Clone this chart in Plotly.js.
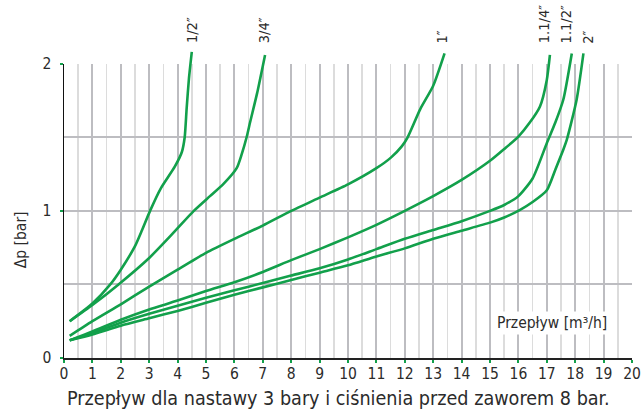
<!DOCTYPE html>
<html>
<head>
<meta charset="utf-8">
<script src="https://cdn.plot.ly/plotly-3.0.1.min.js"></script>
<style>html,body{margin:0;padding:0;background:#fff;}#chart{width:644px;height:411px;}</style>
</head>
<body>
<div id="chart"></div>
<script>
// Series data (x: flow m3/h, y: Δp bar)
const names = ["1/2″", "3/4″", "1″", "1.1/4″", "1.1/2″", "2″"];

const x_12 = [0.2, 1, 1.63, 2, 2.5, 2.75, 3.03, 3.4, 3.9, 4.15, 4.25, 4.32, 4.4, 4.5];
const y_12 = [0.25, 0.37, 0.5, 0.6, 0.76, 0.87, 1.0, 1.15, 1.30, 1.40, 1.5, 1.7, 1.9, 2.08];

const x_34 = [0.2, 1, 1.92, 3, 3.8, 4.57, 5.14, 5.6, 6.08, 6.25, 6.43, 6.55, 6.8, 7.08];
const y_34 = [0.25, 0.36, 0.5, 0.68, 0.84, 1.0, 1.10, 1.18, 1.29, 1.38, 1.5, 1.6, 1.8, 2.06];

const x_1 = [0.2, 1, 2, 3, 4, 5, 6, 7, 8, 9, 10, 11, 11.5, 11.9, 12.1, 12.54, 13, 13.4];
const y_1 = [0.15, 0.25, 0.365, 0.485, 0.60, 0.715, 0.81, 0.90, 1.0, 1.09, 1.18, 1.29, 1.36, 1.44, 1.5, 1.69, 1.85, 2.07];

const x_114 = [0.2, 1, 2, 3, 4, 5, 6, 7, 8, 9, 10, 11, 12, 13, 14, 15, 15.5, 16, 16.4, 16.76, 17.0, 17.11];
const y_114 = [0.12, 0.18, 0.26, 0.33, 0.39, 0.455, 0.515, 0.585, 0.665, 0.74, 0.82, 0.905, 1.0, 1.10, 1.21, 1.34, 1.42, 1.505, 1.6, 1.71, 1.89, 2.06];

const x_112 = [0.2, 1, 2, 3, 4, 5, 6, 7, 8, 9, 10, 11, 12, 13, 14, 15, 15.5, 16, 16.5, 17, 17.3, 17.58, 17.88];
const y_112 = [0.12, 0.17, 0.24, 0.30, 0.355, 0.41, 0.46, 0.51, 0.56, 0.61, 0.67, 0.74, 0.81, 0.87, 0.93, 1.0, 1.04, 1.10, 1.22, 1.46, 1.6, 1.755, 2.07];

const x_2 = [0.2, 1, 2, 3, 4, 5, 6, 7, 8, 9, 10, 11, 12, 13, 14, 15, 15.5, 16.06, 16.5, 17.0, 17.3, 17.58, 17.7, 18.05, 18.29];
const y_2 = [0.12, 0.16, 0.22, 0.27, 0.32, 0.375, 0.43, 0.48, 0.53, 0.58, 0.63, 0.69, 0.745, 0.81, 0.865, 0.92, 0.955, 1.007, 1.06, 1.14, 1.28, 1.415, 1.48, 1.755, 2.07];

// label x-positions (data units) for the rotated series labels
const labelX = [4.5, 7.04, 13.3, 16.9, 17.68, 18.45];

const xTickVals = [0,1,2,3,4,5,6,7,8,9,10,11,12,13,14,15,16,17,18,19,20];
const yTickVals = [0, 1, 2];

const xTitle = "Przepływ [m³/h]";
const yTitle = "Δp [bar]";
const chartTitle = "Przepływ dla nastawy 3 bary i ciśnienia przed zaworem 8 bar.";

const FONT = '"Liberation Sans Narrow", "DejaVu Sans Condensed", "Open Sans", sans-serif';
const GREEN = '#12a04b';
const TXT = '#2b2b2b';
const xs = [x_12, x_34, x_1, x_114, x_112, x_2];
const ys = [y_12, y_34, y_1, y_114, y_112, y_2];

const Y_TOP = 2.1;          // curve layer range (lets curves rise above the y=2 frame)
const Y_MAX = 2;            // grid frame range

const traces = xs.map((x, i) => ({
  type: 'scatter', mode: 'lines', x: x, y: ys[i], name: names[i],
  xaxis: 'x2', yaxis: 'y2',
  line: {color: GREEN, width: 2.6, shape: 'spline', smoothing: 0.6},
  hoverinfo: 'skip'
}));

const annotations = names.map((n, i) => ({
  x: labelX[i], xref: 'x2', y: 1.012, yref: 'paper',
  text: n, showarrow: false, textangle: -90,
  xanchor: 'center', yanchor: 'bottom',
  font: {family: FONT, size: 14.5, color: TXT}
}));

annotations.push({
  x: 17.2, xref: 'x', y: 0.238, yref: 'y', text: xTitle, showarrow: false,
  bgcolor: '#fff', borderpad: 2,
  font: {family: FONT, size: 15.5, color: TXT}
});
annotations.push({
  x: 0, xref: 'x', y: 0.8, yref: 'y', text: yTitle, showarrow: false,
  textangle: -90, xanchor: 'center', yanchor: 'middle',
  xshift: -43,
  font: {family: FONT, size: 15.5, color: TXT}
});
annotations.push({
  x: 0.483, xref: 'paper', y: -0.132, yref: 'paper', text: chartTitle, showarrow: false,
  xanchor: 'center', yanchor: 'middle',
  font: {family: FONT, size: 19.6, color: TXT}
});

const layout = {
  width: 644, height: 411,
  margin: {l: 64, r: 12, t: 49, b: 53},
  paper_bgcolor: '#fff', plot_bgcolor: 'rgba(0,0,0,0)',
  showlegend: false,
  font: {family: FONT, color: TXT},
  xaxis: {
    range: [0, 20], domain: [0, 1], anchor: 'y',
    tickvals: xTickVals, ticktext: xTickVals.map(String),
    showgrid: true, gridcolor: '#bdbdc1', gridwidth: 2,
    minor: {dtick: 0.5, tick0: 0, showgrid: true, gridcolor: '#dcdcdc', gridwidth: 1.6, ticks: ''},
    showline: true, linecolor: '#222', linewidth: 1.5,
    ticks: 'outside', ticklen: 3, tickwidth: 2, tickcolor: GREEN,
    tickfont: {family: FONT, size: 15.5, color: TXT}, ticklabelstandoff: -2,
    zeroline: false, fixedrange: true
  },
  yaxis: {
    range: [0, Y_MAX], domain: [0, Y_MAX / Y_TOP], anchor: 'x',
    tickvals: yTickVals, ticktext: yTickVals.map(String),
    showgrid: true, gridcolor: '#bdbdc1', gridwidth: 2,
    minor: {dtick: 0.5, tick0: 0, showgrid: true, gridcolor: '#bdbdc1', gridwidth: 2, ticks: ''},
    showline: true, linecolor: '#111', linewidth: 1.5,
    ticks: 'outside', ticklen: 3, tickwidth: 2, tickcolor: GREEN,
    tickfont: {family: FONT, size: 15.5, color: TXT}, ticklabelstandoff: 5,
    zeroline: false, fixedrange: true
  },
  xaxis2: {range: [0, 20], domain: [0, 1], anchor: 'y2', visible: false, fixedrange: true},
  yaxis2: {range: [0, Y_TOP], domain: [0, 1], anchor: 'x2', visible: false, fixedrange: true},
  annotations: annotations
};

Plotly.newPlot('chart', traces, layout, {staticPlot: true, displayModeBar: false});
</script>
</body>
</html>
